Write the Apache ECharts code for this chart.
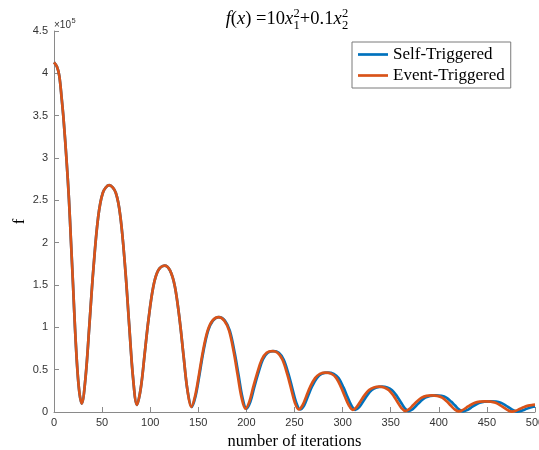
<!DOCTYPE html>
<html>
<head>
<meta charset="utf-8">
<script src="https://cdn.jsdelivr.net/npm/echarts@6/dist/echarts.min.js"></script>
<style>
  html, body { margin: 0; padding: 0; background: #fff; }
  #chart { width: 539px; height: 450px; }
</style>
</head>
<body>
<div id="chart"></div>
<script>
// f values are given in units of 1e5 (the axis carries the ×10^5 factor)
const iterSelf = [0, 3, 5.5, 8, 10, 13, 15.5, 17.7, 19.8, 21.8, 24.3, 26.5, 28.8,
  32.8, 36.8, 40.8, 45.8, 50.8, 57.3, 64.2, 69.2, 74.2, 78.2, 82.2, 86.2,
  90.2, 94.2, 98.2, 103.2, 108.2, 115, 120.7, 125.7, 130.7, 134.7, 138.7, 143.2,
  147.2, 151.2, 155.2, 160.2, 165.2, 171.5, 177.6, 182.7, 187.8, 191.9, 195.9, 200,
  204.1, 208.1, 212.1, 217.1, 222.2, 228.2, 233.7, 238.7, 243.7, 247.7, 251.8, 255.8,
  260.1, 264.1, 268.1, 273.2, 278.2, 284.5, 290.8, 295.8, 300.9, 305, 309, 313.1,
  317.3, 321.3, 325.3, 330.3, 335.3, 341, 346.4, 351.4, 356.4, 360.5, 364.5, 368.6,
  372.9, 376.9, 380.9, 385.9, 391, 397, 402.8, 407.8, 412.8, 416.9, 420.9, 425,
  429.3, 433.3, 437.3, 442.3, 447.4, 453.2, 459.4, 464.4, 469.4, 473.4, 477.5, 481.6,
  485.6, 489.6, 493.6, 498, 500];
const fSelf = [4.13, 4.08, 3.97, 3.7, 3.45, 2.98, 2.52, 2.0, 1.5, 1.0, 0.5, 0.22, 0.10,
  0.41, 1.03, 1.67, 2.29, 2.59, 2.68, 2.59, 2.29, 1.67, 1.02, 0.40, 0.085,
  0.28, 0.68, 1.09, 1.48, 1.67, 1.73, 1.67, 1.48, 1.08, 0.66, 0.26, 0.06,
  0.19, 0.44, 0.71, 0.96, 1.08, 1.12, 1.08, 0.96, 0.70, 0.43, 0.17, 0.04,
  0.12, 0.29, 0.45, 0.62, 0.70, 0.72, 0.70, 0.62, 0.45, 0.28, 0.11, 0.03,
  0.08, 0.19, 0.30, 0.40, 0.45, 0.465, 0.45, 0.40, 0.29, 0.18, 0.08, 0.025,
  0.058, 0.124, 0.193, 0.259, 0.29, 0.30, 0.29, 0.257, 0.188, 0.116, 0.047, 0.012,
  0.034, 0.079, 0.125, 0.169, 0.191, 0.197, 0.19, 0.169, 0.123, 0.076, 0.031, 0.008,
  0.022, 0.05, 0.08, 0.108, 0.122, 0.126, 0.122, 0.108, 0.079, 0.049, 0.02, 0.005,
  0.013, 0.03, 0.048, 0.062, 0.067];

const iterEvent = [0, 3, 5.5, 8, 10, 13, 15.5, 17.7, 19.8, 21.8, 24.3, 26.5, 28.8,
  32.8, 36.8, 40.8, 45.8, 50.8, 57.3, 64.2, 69.2, 74.2, 78.2, 82.2, 86.2,
  90.2, 94.2, 98.2, 103.2, 108.2, 115, 120.7, 125.7, 130.7, 134.7, 138.7, 142.7,
  146.7, 150.7, 154.7, 159.7, 164.7, 171, 177, 182, 187, 191, 195, 199,
  203, 207, 211, 216, 221, 227, 232.4, 237.4, 242.4, 246.4, 250.4, 254.4,
  258.4, 262.4, 266.4, 271.4, 276.4, 282.5, 288.5, 293.5, 298.5, 302.5, 306.5, 310.5,
  314.5, 318.5, 322.5, 327.5, 332.5, 338, 343.2, 348.2, 353.2, 357.2, 361.2, 365.2,
  369.2, 373.2, 377.2, 382.2, 387.2, 393, 398.5, 403.5, 408.5, 412.5, 416.5, 420.5,
  424.5, 428.5, 432.5, 437.5, 442.5, 448, 454, 459, 464, 468, 472, 476,
  480, 484, 488, 493, 498, 500];
const fEvent = [4.13, 4.08, 3.97, 3.7, 3.45, 2.98, 2.52, 2.0, 1.5, 1.0, 0.5, 0.22, 0.10,
  0.41, 1.03, 1.67, 2.29, 2.59, 2.68, 2.59, 2.29, 1.67, 1.02, 0.40, 0.085,
  0.28, 0.68, 1.09, 1.48, 1.67, 1.73, 1.67, 1.48, 1.08, 0.66, 0.26, 0.06,
  0.19, 0.44, 0.71, 0.96, 1.08, 1.12, 1.08, 0.96, 0.70, 0.43, 0.17, 0.04,
  0.12, 0.29, 0.45, 0.62, 0.70, 0.72, 0.70, 0.62, 0.45, 0.28, 0.11, 0.03,
  0.08, 0.19, 0.30, 0.40, 0.45, 0.465, 0.45, 0.40, 0.29, 0.18, 0.08, 0.025,
  0.058, 0.124, 0.193, 0.259, 0.29, 0.30, 0.29, 0.257, 0.188, 0.116, 0.047, 0.012,
  0.034, 0.079, 0.125, 0.169, 0.191, 0.197, 0.19, 0.169, 0.123, 0.076, 0.031, 0.008,
  0.022, 0.05, 0.08, 0.108, 0.122, 0.126, 0.122, 0.108, 0.079, 0.049, 0.02, 0.005,
  0.015, 0.035, 0.055, 0.075, 0.084, 0.086];

const seriesNames = ['Self-Triggered', 'Event-Triggered'];
const seriesColors = ['#0072BD', '#D95319'];
const xTicks = { min: 0, max: 500, step: 50 };
const yTicks = { min: 0, max: 4.5, step: 0.5 };

const SERIF = '"Liberation Serif", "DejaVu Serif", serif';
const SANS = '"Liberation Sans", Arial, sans-serif';
const AXIS_GREY = '#8a8a8a';
const LABEL_GREY = '#333333';

// --- title: f(x) =10x_1^2+0.1x_2^2, laid out piece by piece ---
const ctx = document.createElement('canvas').getContext('2d');
function textWidth(str, size, italic) {
  ctx.font = (italic ? 'italic ' : '') + size + 'px ' + SERIF;
  return ctx.measureText(str).width;
}
const MAIN = 18.5, SCRIPT = 12.5;
const titlePieces = [
  { t: 'f', i: true }, { t: '(' }, { t: 'x', i: true }, { t: ') =10' },
  { t: 'x', i: true }, { sub: '1', sup: '2' }, { t: '+0.1' },
  { t: 'x', i: true }, { sub: '2', sup: '2' }
];
const widths = titlePieces.map(p => p.t !== undefined
  ? textWidth(p.t, MAIN, p.i)
  : Math.max(textWidth(p.sub, SCRIPT), textWidth(p.sup, SCRIPT)) + 0.5);
const total = widths.reduce((a, b) => a + b, 0);
let cx = 287 - total / 2;
const titleY = 19;
const titleEls = [];
titlePieces.forEach((p, k) => {
  if (p.t !== undefined) {
    titleEls.push({
      type: 'text', x: cx, y: titleY,
      style: { text: p.t, fontFamily: SERIF, fontSize: MAIN, fontStyle: p.i ? 'italic' : 'normal',
               fill: '#000', align: 'left', verticalAlign: 'middle' }
    });
  } else {
    titleEls.push({
      type: 'text', x: cx + 0.3, y: titleY + 7,
      style: { text: p.sub, fontFamily: SERIF, fontSize: SCRIPT, fill: '#000', align: 'left', verticalAlign: 'middle' }
    });
    titleEls.push({
      type: 'text', x: cx + 0.3, y: titleY - 5,
      style: { text: p.sup, fontFamily: SERIF, fontSize: SCRIPT, fill: '#000', align: 'left', verticalAlign: 'middle' }
    });
  }
  cx += widths[k];
});

// exponent marker above the y axis
ctx.font = '10px ' + SANS;
const expBaseW = ctx.measureText('\u00d710').width;
const expEls = [
  { type: 'text', x: 54, y: 25, style: { text: '\u00d710', fontFamily: SANS, fontSize: 10, fill: LABEL_GREY, align: 'left', verticalAlign: 'middle' } },
  { type: 'text', x: 54 + expBaseW + 0.5, y: 21, style: { text: '5', fontFamily: SANS, fontSize: 7.5, fill: LABEL_GREY, align: 'left', verticalAlign: 'middle' } }
];

const chart = echarts.init(document.getElementById('chart'), null, { renderer: 'canvas', devicePixelRatio: 1 });

const lineSeries = [[iterSelf, fSelf], [iterEvent, fEvent]].map((pair, s) => ({
  name: seriesNames[s],
  type: 'line',
  data: pair[0].map((x, k) => [x, pair[1][k]]),
  showSymbol: false,
  symbol: 'none',
  smooth: 0.35,
  clip: true,
  lineStyle: { color: seriesColors[s], width: 2.7 },
  itemStyle: { color: seriesColors[s] },
  emphasis: { disabled: true },
  z: 2 + s
}));

chart.setOption({
  animation: false,
  backgroundColor: '#fff',
  grid: { left: 54, right: 4, top: 31, bottom: 38, containLabel: false, outerBoundsMode: 'none' },
  xAxis: {
    type: 'value', min: xTicks.min, max: xTicks.max, interval: xTicks.step,
    name: 'number of iterations', nameLocation: 'middle', nameGap: 19,
    nameTextStyle: { fontFamily: SERIF, fontSize: 16.5, color: '#000' },
    axisLine: { show: true, onZero: false, lineStyle: { color: AXIS_GREY, width: 1 } },
    axisTick: { show: true, inside: true, length: 5, lineStyle: { color: AXIS_GREY } },
    axisLabel: { fontFamily: SANS, fontSize: 11, color: LABEL_GREY, margin: 5 },
    splitLine: { show: false }
  },
  yAxis: {
    type: 'value', min: yTicks.min, max: yTicks.max, interval: yTicks.step,
    name: 'f', nameLocation: 'middle', nameGap: 26, nameMoveOverlap: false,
    nameTextStyle: { fontFamily: SERIF, fontSize: 16.5, color: '#000' },
    axisLine: { show: true, onZero: false, lineStyle: { color: AXIS_GREY, width: 1 } },
    axisTick: { show: true, inside: true, length: 5, lineStyle: { color: AXIS_GREY } },
    axisLabel: { fontFamily: SANS, fontSize: 11, color: LABEL_GREY, margin: 6 },
    splitLine: { show: false }
  },
  legend: {
    orient: 'vertical', left: 352, top: 42,
    data: seriesNames,
    icon: 'rect', itemWidth: 30, itemHeight: 2.7, itemGap: 2,
    padding: [3, 6, 3, 6],
    backgroundColor: '#fff', borderColor: '#7a7a7a', borderWidth: 1,
    textStyle: { fontFamily: SERIF, fontSize: 17, color: '#000', lineHeight: 19 }
  },
  graphic: titleEls.concat(expEls),
  series: lineSeries
});
</script>
</body>
</html>
